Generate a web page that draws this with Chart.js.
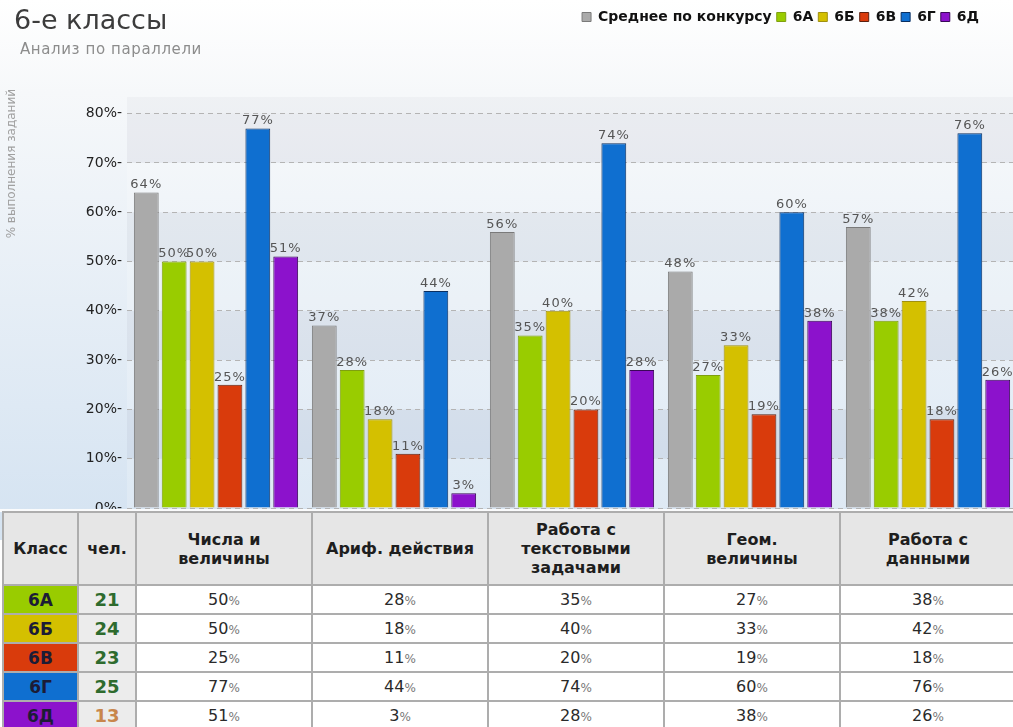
<!DOCTYPE html>
<html>
<head>
<meta charset="utf-8">
<title>6-е классы</title>
<style>
  body { margin: 0; background: #fff; font-family: "DejaVu Sans", Verdana, sans-serif; }
  #wrap { position: relative; width: 1013px; height: 727px; overflow: hidden; }
  #chart { position: absolute; left: 0; top: 0; }
  #title { position: absolute; left: 14px; top: 4px; font-size: 27px; color: #3c3c3c; }
  #subtitle { position: absolute; left: 20px; top: 40px; font-size: 15px; letter-spacing: 0.6px; color: #8c8c8c; }
  #strip { position: absolute; left: 0; top: 509px; width: 1013px; height: 3px; background: #fafbfc; }
  #grid { position: absolute; left: 2px; top: 511px; width: 1013px; border-collapse: collapse; table-layout: fixed; background: #fff; }
  #grid th, #grid td { border: 2px solid #adadad; text-align: center; padding: 0; }
  #grid th { background: #e6e6e6; height: 71px; font-size: 16px; font-weight: bold; color: #1e1e1e; line-height: 19px; }
  #grid td { height: 27px; font-size: 16px; color: #2a2a2a; }
  #grid td.cls { font-weight: bold; font-size: 17px; color: #1c1c36; }
  #grid td.cnt { background: #ececec; font-weight: bold; font-size: 18px; color: #2e6b2e; }
  #grid td.cnt.low { color: #c8864c; }
  #grid span.pc { font-size: 12px; color: #777; }
</style>
</head>
<body>
<div id="wrap">
  <canvas id="chart" width="1018" height="540"></canvas>
  <div id="title">6-е классы</div>
  <div id="subtitle">Анализ по параллели</div>
  <div id="strip"></div>
  <table id="grid"></table>
</div>
<script src="https://cdn.jsdelivr.net/npm/chart.js"></script>
<script>
  // categories (line-split for the table header)
  const categories = [
    ["Числа и", "величины"],
    ["Ариф. действия"],
    ["Работа с", "текстовыми", "задачами"],
    ["Геом.", "величины"],
    ["Работа с", "данными"]
  ];
  const classNames = ["6А", "6Б", "6В", "6Г", "6Д"];
  const classCounts = [21, 24, 23, 25, 13];

  const avgValues = [64, 37, 56, 48, 57];
  const values6A = [50, 28, 35, 27, 38];
  const values6B = [50, 18, 40, 33, 42];
  const values6V = [25, 11, 20, 19, 18];
  const values6G = [77, 44, 74, 60, 76];
  const values6D = [51, 3, 28, 38, 26];

  const yTicks = [0, 10, 20, 30, 40, 50, 60, 70, 80];

  const fills = ["#aaaaaa", "#99cc00", "#d4c000", "#d93b0c", "#0f6fd0", "#8c12cc"];
  const edges = ["#7a7a7a", "#7f9f10", "#a09010", "#5a2010", "#0a2f60", "#3a0858"];

  const seriesNames = ["Среднее по конкурсу"].concat(classNames);
  const seriesValues = [avgValues, values6A, values6B, values6V, values6G, values6D];

  // table under the chart
  const table = document.getElementById("grid");
  let html = '<colgroup><col style="width:75px"><col style="width:58px">' +
    categories.map(() => '<col style="width:176px">').join("") + '</colgroup>';
  html += "<tr><th>Класс</th><th>чел.</th>" +
    categories.map(c => "<th>" + c.join("<br>") + "</th>").join("") + "</tr>";
  classNames.forEach((name, i) => {
    const vals = seriesValues[i + 1];
    html += '<tr><td class="cls" style="background:' + fills[i + 1] + '">' + name + "</td>" +
      '<td class="cnt' + (classCounts[i] < 20 ? " low" : "") + '">' + classCounts[i] + "</td>" +
      vals.map(v => '<td>' + v + '<span class="pc">%</span></td>').join("") + "</tr>";
  });
  table.innerHTML = html;

  const bgPlugin = {
    id: "bg",
    beforeInit(chart) {
      const fit = chart.legend.fit;
      chart.legend.fit = function () {
        fit.bind(chart.legend)();
        this.height += 55;
      };
    },
    afterUpdate(chart) {
      chart.legend.right -= 33;
    },
    beforeDraw(chart) {
      const { ctx, chartArea: a, scales: { y } } = chart;
      ctx.save();
      const g = ctx.createLinearGradient(0, 0, 0, 510);
      g.addColorStop(0, "#ffffff");
      g.addColorStop(0.18, "#f6f8fa");
      g.addColorStop(1, "#d6e4f2");
      ctx.fillStyle = g;
      ctx.fillRect(0, 0, chart.width, chart.height);
      const top80 = y.getPixelForValue(80);
      ctx.fillStyle = "rgba(120,120,140,0.05)";
      ctx.fillRect(a.left, a.top + 8, a.right - a.left, top80 - a.top - 8);
      for (let k = 0; k < yTicks.length - 1; k++) {
        const t = y.getPixelForValue(yTicks[k + 1]);
        const b = y.getPixelForValue(yTicks[k]);
        ctx.fillStyle = k % 2 ? "rgba(120,120,140,0.08)" : "rgba(255,255,255,0.2)";
        ctx.fillRect(a.left, t, a.right - a.left, b - t);
      }
      ctx.restore();
    },
    afterDatasetsDraw(chart) {
      const ctx = chart.ctx;
      ctx.save();
      ctx.font = '13px "DejaVu Sans"';
      ctx.letterSpacing = "1px";
      ctx.fillStyle = "#555";
      ctx.textAlign = "center";
      ctx.textBaseline = "bottom";
      chart.data.datasets.forEach((ds, i) => {
        chart.getDatasetMeta(i).data.forEach((bar, j) => {
          ctx.fillText(ds.data[j] + "%", bar.x, bar.y - 1);
        });
      });
      ctx.restore();
    }
  };

  new Chart(document.getElementById("chart"), {
    type: "bar",
    data: {
      labels: categories,
      datasets: seriesNames.map((name, i) => ({
        label: name,
        data: seriesValues[i],
        backgroundColor: fills[i],
        borderColor: edges[i],
        borderWidth: 1,
        categoryPercentage: 0.94,
        barPercentage: 0.89
      }))
    },
    options: {
      responsive: false,
      animation: false,
      layout: { padding: { top: 5, right: 1, bottom: 32, left: 0 } },
      plugins: {
        legend: {
          position: "top",
          align: "end",
          labels: {
            boxWidth: 9,
            boxHeight: 9,
            padding: 5,
            color: "#111",
            font: { family: "DejaVu Sans", size: 14, weight: "bold" }
          }
        },
        tooltip: { enabled: false }
      },
      scales: {
        x: { display: false },
        y: {
          min: 0,
          max: 85,
          afterBuildTicks: ax => { ax.ticks = yTicks.map(v => ({ value: v })); },
          afterFit: s => { s.width = 127; },
          ticks: {
            callback: v => v + "%-",
            color: "#222",
            padding: 5,
            font: { family: "DejaVu Sans", size: 14 }
          },
          grid: { color: "#b4b4b4", drawTicks: false },
          border: { display: false, dash: [5, 4] },
          title: {
            display: true,
            text: "% выполнения заданий",
            align: "end",
            color: "#a0a0a0",
            font: { family: "DejaVu Sans", size: 12 },
            padding: { top: 5, bottom: 0 }
          }
        }
      }
    },
    plugins: [bgPlugin]
  });
</script>
</body>
</html>
